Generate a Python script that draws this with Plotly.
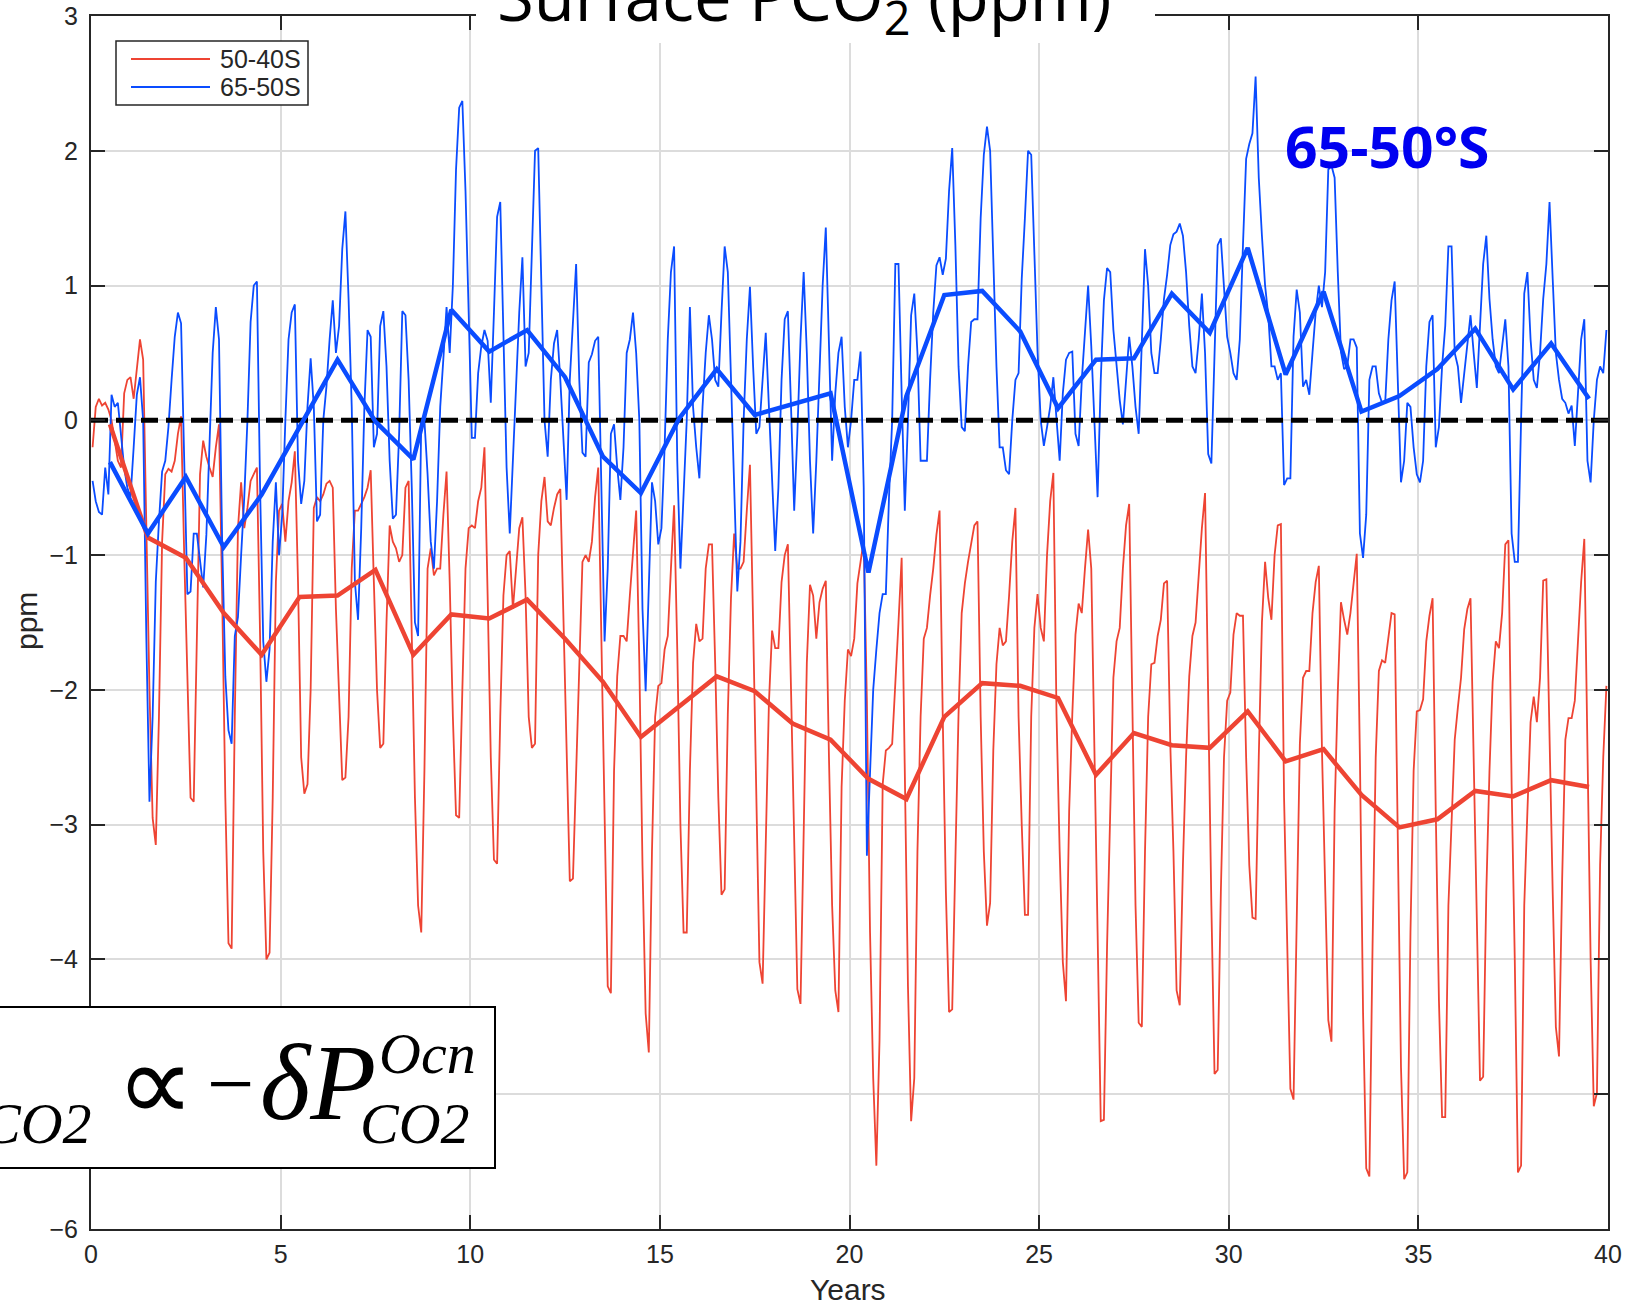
import numpy as np
import plotly.graph_objects as go

# ---------------------------------------------------------------------------
# Surface pCO2 anomaly (ppm): monthly values, one line per model year
# ---------------------------------------------------------------------------
red_monthly = [  # 50-40S
    -0.2, 0.1, 0.16, 0.11, 0.13, 0.08, 0.0, -0.15, -0.3, -0.35, 0.2, 0.3,
    0.32, 0.16, 0.4, 0.6, 0.45, -0.9, -2.0, -2.95, -3.15, -2.2, -0.9, -0.4,
    -0.36, -0.38, -0.3, -0.1, 0.03, -1.0, -2.0, -2.8, -2.83, -1.6, -0.4, -0.15,
    -0.27, -0.35, -0.42, -0.2, -0.03, -1.3, -2.8, -3.88, -3.92, -2.2, -0.8, -0.46,
    -0.8, -0.65, -0.45, -0.4, -0.35, -1.6, -3.2, -4.0, -3.95, -2.8, -1.2, -0.67,
    -0.62, -0.9, -0.6, -0.46, -0.23, -1.2, -2.5, -2.77, -2.7, -2.0, -0.65, -0.57,
    -0.6, -0.55, -0.47, -0.45, -0.5, -1.4, -2.0, -2.67, -2.65, -2.2, -1.1, -0.67,
    -0.67, -0.62, -0.57, -0.5, -0.37, -1.2, -2.0, -2.43, -2.4, -1.5, -0.78, -0.9,
    -0.95, -1.05, -1.0, -0.5, -0.45, -1.6, -2.8, -3.6, -3.8, -2.6, -1.1, -0.95,
    -1.15, -1.1, -1.1, -0.7, -0.38, -1.2, -2.2, -2.93, -2.95, -2.0, -1.1, -0.8,
    -0.78, -0.8, -0.6, -0.5, -0.2, -1.3, -2.5, -3.26, -3.29, -2.2, -1.3, -1.0,
    -0.97, -1.4, -1.1, -0.8, -0.72, -1.3, -2.2, -2.43, -2.4, -1.0, -0.6, -0.42,
    -0.75, -0.78, -0.65, -0.55, -0.51, -1.5, -2.6, -3.42, -3.4, -2.6, -1.9, -1.05,
    -1.0, -1.05, -0.9, -0.57, -0.35, -1.6, -3.0, -4.2, -4.25, -2.6, -1.9, -1.6,
    -1.6, -1.64, -1.3, -1.0, -0.67, -1.8, -3.3, -4.4, -4.69, -3.2, -2.2, -1.97,
    -1.95, -1.7, -1.6, -1.1, -0.63, -1.7, -3.0, -3.8, -3.8, -2.6, -1.8, -1.51,
    -1.64, -1.62, -1.1, -0.92, -0.92, -1.8, -2.8, -3.52, -3.48, -2.18, -1.32, -0.84,
    -1.1, -1.1, -1.05, -0.67, -0.33, -1.5, -2.8, -4.02, -4.18, -3.0, -2.1, -1.56,
    -1.69, -1.69, -1.2, -1.0, -0.92, -2.0, -3.2, -4.22, -4.33, -2.9, -1.8, -1.22,
    -1.3, -1.62, -1.35, -1.25, -1.19, -2.5, -3.6, -4.23, -4.39, -2.72, -2.08, -1.7,
    -1.75, -1.62, -1.21, -1.05, -0.89, -2.08, -3.8, -4.88, -5.53, -4.6, -2.7, -2.45,
    -2.43, -2.4, -1.9, -1.5, -1.02, -2.5, -4.2, -5.2, -4.88, -3.2, -2.2, -1.62,
    -1.54, -1.3, -1.1, -0.85, -0.67, -2.2, -3.5, -4.39, -4.37, -3.26, -2.18, -1.43,
    -1.21, -1.05, -0.9, -0.78, -0.75, -2.2, -3.2, -3.75, -3.58, -2.45, -1.81, -1.54,
    -1.67, -1.64, -1.3, -0.9, -0.65, -2.2, -3.0, -3.67, -3.67, -2.2, -1.54, -1.29,
    -1.54, -1.64, -1.0, -0.6, -0.39, -2.18, -3.2, -4.02, -4.31, -2.9, -2.18, -1.59,
    -1.36, -1.43, -1.1, -0.81, -1.1, -2.6, -3.8, -5.2, -5.19, -3.9, -2.8, -1.91,
    -1.64, -1.54, -1.1, -0.78, -0.62, -2.2, -3.6, -4.47, -4.5, -3.2, -2.2, -1.81,
    -1.8, -1.6, -1.48, -1.21, -1.19, -2.4, -3.2, -4.23, -4.34, -3.3, -2.5, -1.9,
    -1.6, -1.5, -1.11, -0.8, -0.54, -2.2, -3.6, -4.85, -4.82, -3.5, -2.5, -2.08,
    -2.02, -1.59, -1.43, -1.45, -1.45, -2.5, -3.3, -3.69, -3.7, -2.5, -1.5, -1.05,
    -1.32, -1.48, -1.0, -0.78, -0.77, -2.8, -3.8, -4.96, -5.04, -3.8, -2.4, -1.91,
    -1.86, -1.86, -1.43, -1.2, -1.08, -2.45, -3.5, -4.45, -4.61, -2.9, -2.02, -1.35,
    -1.48, -1.59, -1.43, -1.2, -0.99, -2.5, -4.4, -5.55, -5.61, -3.9, -2.5, -1.86,
    -1.78, -1.8, -1.6, -1.43, -1.44, -3.0, -4.8, -5.63, -5.58, -3.8, -2.6, -2.16,
    -2.15, -2.07, -1.64, -1.45, -1.32, -2.9, -4.3, -5.17, -5.17, -3.6, -3.0, -2.37,
    -2.13, -1.91, -1.55, -1.4, -1.32, -2.5, -3.8, -4.9, -4.87, -3.5, -2.6, -1.94,
    -1.64, -1.69, -1.43, -0.92, -0.89, -2.7, -4.0, -5.58, -5.53, -3.6, -2.9, -2.24,
    -2.05, -2.24, -1.91, -1.19, -1.18, -2.4, -3.5, -4.5, -4.72, -3.4, -2.37, -2.21,
    -2.21, -2.08, -1.6, -1.2, -0.88, -2.6, -4.0, -5.09, -4.99, -3.3, -2.5, -1.97,
]

blue_monthly = [  # 65-50S
    -0.45, -0.6, -0.68, -0.7, -0.35, -0.55, 0.19, 0.1, 0.13, -0.1, -0.35, -0.5,
    -0.57, -0.2, 0.19, 0.32, 0.0, -1.6, -2.83, -2.2, -1.2, -0.75, -0.38, -0.3,
    -0.05, 0.3, 0.62, 0.8, 0.72, -0.3, -1.29, -1.27, -0.84, -0.84, -1.05, -1.24,
    -0.85, -0.2, 0.5, 0.84, 0.6, -0.9, -1.9, -2.3, -2.4, -1.6, -1.46, -1.0,
    -0.57, 0.0, 0.73, 1.0, 1.03, -0.5, -1.64, -1.94, -1.7, -0.9, -0.46, -1.0,
    -0.7, 0.0, 0.6, 0.8, 0.86, -0.3, -0.62, -0.45, 0.1, 0.46, 0.1, -0.75,
    -0.7, 0.0, 0.25, 0.6, 0.89, 0.5, 0.7, 1.27, 1.55, 0.9, 0.1, -1.2,
    -1.48, -0.8, 0.1, 0.67, 0.62, -0.2, -0.1, 0.7, 0.81, 0.4, -0.3, -0.73,
    -0.7, -0.1, 0.81, 0.78, 0.3, -0.5, -1.5, -1.6, 0.0, 0.0, -0.4, -0.9,
    -1.1, -0.6, 0.1, 0.46, 0.84, 0.5, 1.0, 1.86, 2.32, 2.37, 1.7, 0.8,
    -0.13, -0.13, 0.35, 0.55, 0.67, 0.59, 0.13, 0.8, 1.51, 1.62, 0.51, -0.35,
    -0.84, -0.3, 0.3, 0.8, 1.21, 0.4, 0.5, 1.3, 2.0, 2.02, 0.9, 0.0,
    -0.27, 0.3, 0.57, 0.67, 0.3, -0.1, -0.59, 0.3, 0.78, 1.16, 0.3, -0.24,
    -0.27, 0.43, 0.49, 0.59, 0.62, -0.57, -1.64, -1.1, -0.1, -0.03, -0.35, -0.59,
    -0.2, 0.5, 0.6, 0.8, 0.5, 0.0, -1.4, -2.01, -1.2, -0.46, -0.6, -0.92,
    -0.8, -0.2, 0.6, 1.1, 1.29, -0.3, -1.1, -0.6, 0.0, 0.84, 0.1, -0.2,
    -0.43, 0.1, 0.5, 0.78, 0.6, 0.3, 0.25, 0.8, 1.29, 1.1, 0.3, -0.5,
    -1.27, -0.9, 0.0, 0.6, 0.99, 0.4, -0.1, -0.05, 0.3, 0.65, 0.1, -0.5,
    -0.97, -0.5, 0.3, 0.75, 0.81, 0.1, -0.67, -0.1, 0.6, 1.1, 0.5, -0.3,
    -0.84, -0.3, 0.4, 1.0, 1.43, 0.5, -0.3, 0.2, 0.5, 0.62, 0.1, -0.2,
    0.0, 0.3, 0.3, 0.51, -0.5, -3.23, -2.6, -2.0, -1.7, -1.43, -1.29, -1.29,
    -0.57, 0.0, 1.16, 1.16, 0.2, -0.67, 0.0, 0.78, 0.94, 0.5, -0.3, -0.3,
    -0.3, 0.3, 0.8, 1.15, 1.21, 1.08, 1.2, 1.7, 2.02, 1.3, 0.4, -0.05,
    -0.08, 0.4, 0.73, 0.75, 0.75, 1.5, 1.97, 2.18, 2.0, 1.2, 0.4, -0.2,
    -0.2, -0.37, -0.4, 0.0, 0.3, 0.35, 1.05, 1.5, 2.0, 1.97, 1.2, 0.51,
    0.0, -0.19, -0.05, 0.1, 0.32, 0.0, -0.3, 0.2, 0.45, 0.5, 0.51, -0.1,
    -0.19, 0.3, 0.65, 1.0, 0.55, 0.0, -0.57, 0.3, 0.89, 1.13, 1.1, 0.67,
    0.4, 0.15, -0.03, 0.3, 0.62, 0.4, 0.1, -0.1, 0.6, 1.27, 1.0, 0.5,
    0.35, 0.35, 0.6, 0.9, 1.08, 1.3, 1.38, 1.4, 1.46, 1.37, 1.1, 0.7,
    0.4, 0.35, 0.6, 0.94, 0.5, -0.25, -0.32, 0.5, 1.3, 1.35, 1.0, 0.62,
    0.5, 0.35, 0.3, 0.6, 1.3, 1.94, 2.05, 2.13, 2.55, 1.8, 1.37, 1.0,
    0.78, 0.4, 0.4, 0.3, 0.35, -0.48, -0.43, -0.43, 0.62, 0.97, 0.8, 0.25,
    0.3, 0.19, 0.5, 0.8, 1.0, 0.84, 1.1, 1.86, 1.89, 1.8, 1.1, 0.51,
    0.38, 0.4, 0.6, 0.6, 0.54, -0.84, -1.02, -0.7, 0.3, 0.4, 0.4, 0.2,
    0.13, 0.13, 0.6, 0.89, 1.03, 0.3, -0.46, -0.3, 0.13, 0.1, -0.2, -0.4,
    -0.46, -0.3, 0.4, 0.73, 0.78, -0.2, -0.05, 0.4, 0.7, 1.29, 1.29, 0.5,
    0.4, 0.13, 0.35, 0.6, 0.78, 0.5, 0.24, 0.7, 1.16, 1.37, 0.9, 0.6,
    0.4, 0.35, 0.55, 0.75, 0.4, -0.84, -1.05, -1.05, 0.0, 0.94, 1.1, 0.6,
    0.3, 0.24, 0.5, 0.9, 1.16, 1.62, 1.05, 0.5, 0.3, 0.16, 0.13, 0.05,
    0.11, -0.19, 0.2, 0.6, 0.75, -0.3, -0.46, 0.0, 0.3, 0.4, 0.35, 0.67,
]

# annual means, plotted at mid-year
red_annual = [
    -0.03, -0.87, -1.02, -1.43, -1.74, -1.31, -1.30, -1.11, -1.74, -1.44,
    -1.47, -1.33, -1.62, -1.94, -2.35, -2.13, -1.90, -2.01, -2.25, -2.37,
    -2.66, -2.81, -2.20, -1.95, -1.97, -2.06, -2.63, -2.32, -2.41, -2.43,
    -2.16, -2.53, -2.44, -2.78, -3.02, -2.96, -2.75, -2.79, -2.67, -2.72,
]
blue_annual = [
    -0.31, -0.84, -0.42, -0.94, -0.55, -0.05, 0.45, -0.01, -0.29, 0.82,
    0.51, 0.67, 0.32, -0.27, -0.54, 0.01, 0.38, 0.04, 0.12, 0.20,
    -1.13, 0.18, 0.93, 0.96, 0.66, 0.09, 0.45, 0.46, 0.94, 0.65,
    1.28, 0.34, 0.955, 0.065, 0.18, 0.38, 0.68, 0.23, 0.57, 0.16,
]

series_names = ["50-40S", "65-50S"]
x_range = [0, 40]
y_range = [-6, 3]
x_ticks = [0, 5, 10, 15, 20, 25, 30, 35, 40]
y_ticks = [-6, -5, -4, -3, -2, -1, 0, 1, 2, 3]
zero_level = 0.0

RED = "#EE4433"
BLUE = "#0A4CFF"
AXC = "#262626"
SANS = "Liberation Sans, Arial, sans-serif"
TICK_FONT = dict(family=SANS, size=25, color=AXC)
LABEL_FONT = dict(family=SANS, size=30, color=AXC)
SERIF = "Liberation Serif, Times New Roman, serif"

# time axes
t_month = (np.arange(len(red_monthly)) + 0.5) / 12.0
t_year = np.arange(len(red_annual)) + 0.5

# page geometry (pixels) and conversion to paper coordinates
W, H = 1642, 1305
ML, MR, MT, MB = 91, 34, 16, 76
PW, PH = W - ML - MR, H - MT - MB


def px(xp):
    return (xp - ML) / PW


def py(yp):
    return (H - MB - yp) / PH


fig = go.Figure()

fig.add_trace(go.Scatter(x=t_month, y=red_monthly, mode="lines",
                         line=dict(color=RED, width=1.8), name=series_names[0],
                         showlegend=False))
fig.add_trace(go.Scatter(x=t_month, y=blue_monthly, mode="lines",
                         line=dict(color=BLUE, width=1.8), name=series_names[1],
                         showlegend=False))
fig.add_trace(go.Scatter(x=x_range, y=[zero_level, zero_level], mode="lines",
                         line=dict(color="black", width=5, dash="17px,8px"),
                         showlegend=False, hoverinfo="skip"))
fig.add_trace(go.Scatter(x=t_year, y=red_annual, mode="lines",
                         line=dict(color=RED, width=4.5), showlegend=False))
fig.add_trace(go.Scatter(x=t_year, y=blue_annual, mode="lines",
                         line=dict(color=BLUE, width=4.5), showlegend=False))

axis_common = dict(
    showgrid=True, gridcolor="#dcdcdc", gridwidth=1.5, zeroline=False,
    showline=True, linecolor=AXC, linewidth=2, mirror="ticks",
    ticks="inside", ticklen=14, tickwidth=2, tickcolor=AXC,
    tickfont=TICK_FONT, automargin=False,
)

fig.update_layout(
    width=W, height=H,
    margin=dict(l=ML, r=MR, t=MT, b=MB),
    paper_bgcolor="white", plot_bgcolor="white",
    xaxis=dict(range=x_range, tickvals=x_ticks, ticklabelstandoff=2, **axis_common),
    yaxis=dict(range=y_range, tickvals=y_ticks, ticklabelstandoff=6, **axis_common),
    showlegend=False,
)

shapes = []
# white band behind the title, interrupting the top frame
shapes.append(dict(type="rect", xref="paper", yref="paper", layer="above",
                   x0=px(476), x1=px(1155), y0=py(43), y1=py(-5),
                   line=dict(width=0), fillcolor="white"))
# legend frame and line samples
shapes.append(dict(type="rect", xref="paper", yref="paper", layer="above",
                   x0=px(116), x1=px(308), y0=py(105), y1=py(41),
                   line=dict(color=AXC, width=1.5), fillcolor="white"))
for yy, col in [(59, RED), (87, BLUE)]:
    shapes.append(dict(type="line", xref="paper", yref="paper", layer="above",
                       x0=px(131), x1=px(210), y0=py(yy), y1=py(yy),
                       line=dict(color=col, width=2)))
# equation box
shapes.append(dict(type="rect", xref="paper", yref="paper", layer="above",
                   x0=px(-20), x1=px(495), y0=py(1168), y1=py(1007),
                   line=dict(color="black", width=2), fillcolor="white"))
fig.update_layout(shapes=shapes)

ann = []
# title
ann.append(dict(text="Surface PCO<sub>2</sub> (ppm)", xref="paper", yref="paper",
                x=px(804), y=py(-1), xanchor="center", yanchor="middle",
                showarrow=False,
                font=dict(family="Open Sans, sans-serif", size=67, color="black")))
# legend labels
for yy, name in [(59, series_names[0]), (87, series_names[1])]:
    ann.append(dict(text=name, xref="paper", yref="paper", x=px(218), y=py(yy),
                    xanchor="left", yanchor="middle", showarrow=False,
                    font=TICK_FONT))
# axis titles
ann.append(dict(text="ppm", xref="paper", yref="paper", x=px(26), y=py(621),
                xanchor="center", yanchor="middle", textangle=-90,
                showarrow=False, font=LABEL_FONT))
ann.append(dict(text="Years", xref="paper", yref="paper", x=px(848), y=py(1289),
                xanchor="center", yanchor="middle", showarrow=False,
                font=LABEL_FONT))
# region label
ann.append(dict(text="<b>65-50°S</b>", xref="paper", yref="paper",
                x=px(1387), y=py(146), xanchor="center", yanchor="middle",
                showarrow=False,
                font=dict(family="Open Sans, sans-serif", size=57, color="#0000F0")))
# flux relation inside the equation box
ann.append(dict(text="<i>CO2</i>", xref="paper", yref="paper", x=px(94),
                y=py(1123), xanchor="right", yanchor="middle", showarrow=False,
                font=dict(family=SERIF, size=58, color="black")))
ann.append(dict(text="∝", xref="paper", yref="paper", x=px(155), y=py(1084),
                xanchor="center", yanchor="middle", showarrow=False,
                font=dict(family=SERIF, size=110, color="black")))
ann.append(dict(text="−", xref="paper", yref="paper", x=px(230), y=py(1083),
                xanchor="center", yanchor="middle", showarrow=False,
                font=dict(family=SERIF, size=84, color="black")))
ann.append(dict(text="<i>δP</i>", xref="paper", yref="paper", x=px(258),
                y=py(1082), xanchor="left", yanchor="middle", showarrow=False,
                font=dict(family=SERIF, size=108, color="black")))
ann.append(dict(text="<i>Ocn</i>", xref="paper", yref="paper", x=px(377),
                y=py(1053), xanchor="left", yanchor="middle", showarrow=False,
                font=dict(family=SERIF, size=58, color="black")))
ann.append(dict(text="<i>CO2</i>", xref="paper", yref="paper", x=px(358),
                y=py(1123), xanchor="left", yanchor="middle", showarrow=False,
                font=dict(family=SERIF, size=58, color="black")))
fig.update_layout(annotations=ann)

fig.write_html("out.html")
